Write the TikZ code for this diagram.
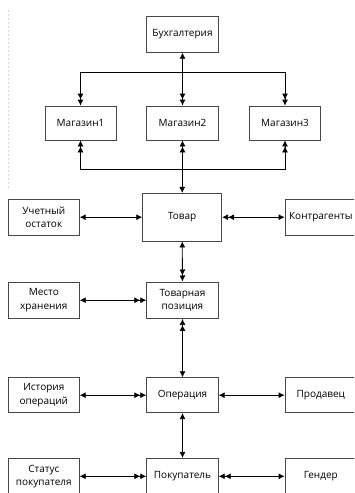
\documentclass[tikz,border=0pt]{standalone}
\usepackage{fontspec}
\setmainfont{Open Sans}
\usetikzlibrary{arrows.meta}
\tikzset{
  box/.style={draw=black!72, line width=0.8pt, fill=white, align=center, inner sep=1pt,
    font=\fontsize{10}{13.3}\selectfont, minimum width=71.6pt, minimum height=35.6pt},
  conn/.style={line width=0.8pt, black},
  tp/.tip={Latex[length=6pt,width=6pt]},
}
\begin{document}
\begin{tikzpicture}[x=1pt,y=-1pt]
\useasboundingbox (0,0) rectangle (354,493);
\clip (0,0) rectangle (354,493);
\draw[black!15, line width=0.8pt, dash pattern=on 2pt off 2pt] (8,10) -- (8,190);
% nodes
\node[box] (buh) at (182.5,34.5) {Бухгалтерия};
\node[box, minimum width=71pt, minimum height=34pt] (m1) at (80.5,123) {Магазин1};
\node[box, minimum height=34pt] (m2) at (182.5,123) {Магазин2};
\node[box, minimum height=34pt] (m3) at (285,123) {Магазин3};
\node[box, minimum width=79pt, minimum height=47.7pt] (tovar) at (182.2,217.2) {Товар};
\node[box, minimum width=71pt, minimum height=35.7pt] (uch) at (43.8,217.2) {Учетный\\остаток};
\node[box, minimum width=71.6pt, minimum height=35.7pt] (kontr) at (320.8,217.2) {Контрагенты};
\node[box, minimum height=36.6pt] (tpos) at (182.5,300.2) {Товарная\\позиция};
\node[box, minimum width=71pt, minimum height=36pt] (mesto) at (43.8,300.2) {Место\\хранения};
\node[box, minimum height=35pt] (oper) at (182.5,395.2) {Операция};
\node[box, minimum width=71pt, minimum height=35pt] (ist) at (43.8,395.2) {История\\операций};
\node[box, minimum width=71.6pt, minimum height=35pt] (prod) at (320.8,395.2) {Продавец};
\node[box, minimum height=36pt] (pok) at (182.5,476.3) {Покупатель};
\node[box, minimum width=71pt, minimum height=36pt] (stat) at (43.8,476.3) {Статус\\покупателя};
\node[box, minimum width=71.6pt, minimum height=36pt] (gend) at (320.8,476.3) {Гендер};
% bus coordinates
\coordinate (b1l) at (80.5,72);
\coordinate (b1r) at (285,72);
\coordinate (b2l) at (80.5,169.5);
\coordinate (b2r) at (285,169.5);
\coordinate (b2c) at (182.2,169.5);
% connectors
\draw[conn,{tp}-{tp[]tp}] (buh) -- (m2);
\draw[conn] (b1l) -- (b1r);
\draw[conn,-{tp[]tp}] (b1l) -- (m1);
\draw[conn,-{tp[]tp}] (b1r) -- (m3);
\draw[conn,{tp[]tp}-] (m1) -- (b2l);
\draw[conn,{tp[]tp}-] (m2) -- (m2 |- b2l);
\draw[conn,{tp[]tp}-] (m3) -- (b2r);
\draw[conn] (b2l) -- (b2r);
\draw[conn,-{tp}] (b2c) -- (tovar);
\draw[conn,{tp}-{tp}] (uch) -- (tovar);
\draw[conn,{tp[]tp}-{tp}] (tovar) -- (kontr);
\draw[conn,{tp}-{tp[]tp}] (tovar) -- (tpos);
\draw[conn,{tp}-{tp[]tp}] (mesto) -- (tpos);
\draw[conn,{tp[]tp}-{tp}] (tpos) -- (oper);
\draw[conn,{tp}-{tp[]tp}] (ist) -- (oper);
\draw[conn,{tp}-{tp}] (oper) -- (prod);
\draw[conn,{tp}-{tp}] (oper) -- (pok);
\draw[conn,{tp}-{tp[]tp}] (stat) -- (pok);
\draw[conn,{tp[]tp}-{tp}] (pok) -- (gend);
\end{tikzpicture}
\end{document}
